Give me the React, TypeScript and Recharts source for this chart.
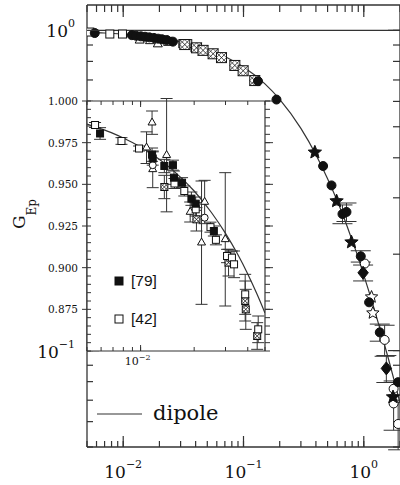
import React from 'react';
import { ComposedChart, Scatter, Line, XAxis, YAxis, ErrorBar, ReferenceLine } from 'recharts';

const INK = '#111';
const AX = '#333';
const SERIF = '"DejaVu Serif", serif';
const SANS = '"Liberation Sans", Arial, sans-serif';

// ---------- main axes ----------
const mainXTicks = [0.005, 0.006, 0.007, 0.008, 0.009, 0.01, 0.02, 0.03, 0.04, 0.05, 0.06, 0.07, 0.08, 0.09, 0.1, 0.2, 0.3, 0.4, 0.5, 0.6, 0.7, 0.8, 0.9, 1, 2];
const mainXMajor = [0.01, 0.1, 1];
const mainXExp = ['−2', '−1', '0'];
const mainYTicks = [0.05, 0.06, 0.07, 0.08, 0.09, 0.1, 0.2, 0.3, 0.4, 0.5, 0.6, 0.7, 0.8, 0.9, 1];
const mainYMajor = [0.1, 1];
const mainYExp = ['−1', '0'];

// ---------- main data (Q^2, G_Ep, error) ----------
const mainCurve = [
  { x: 0.005, y: 0.986 }, { x: 0.007, y: 0.981 }, { x: 0.01, y: 0.972 }, { x: 0.015, y: 0.959 },
  { x: 0.02, y: 0.946 }, { x: 0.03, y: 0.921 }, { x: 0.05, y: 0.873 }, { x: 0.07, y: 0.829 },
  { x: 0.1, y: 0.768 }, { x: 0.15, y: 0.682 }, { x: 0.2, y: 0.609 }, { x: 0.3, y: 0.494 },
  { x: 0.4, y: 0.409 }, { x: 0.5, y: 0.344 }, { x: 0.6, y: 0.294 }, { x: 0.7, y: 0.254 },
  { x: 0.8, y: 0.221 }, { x: 0.9, y: 0.195 }, { x: 1.0, y: 0.172 }, { x: 1.2, y: 0.138 },
  { x: 1.4, y: 0.113 }, { x: 1.6, y: 0.0945 }, { x: 1.8, y: 0.08 }, { x: 2.0, y: 0.0686 },
];
const mainFilledCircle = [
  { x: 0.0058, y: 0.981, e: 0 }, { x: 0.0118, y: 0.966, e: 0 }, { x: 0.0128, y: 0.962, e: 0 },
  { x: 0.014, y: 0.958, e: 0 }, { x: 0.0152, y: 0.955, e: 0 }, { x: 0.0165, y: 0.951, e: 0 },
  { x: 0.018, y: 0.947, e: 0 }, { x: 0.0195, y: 0.942, e: 0 }, { x: 0.021, y: 0.938, e: 0 },
  { x: 0.023, y: 0.933, e: 0 }, { x: 0.0259, y: 0.922, e: 0 }, { x: 0.132, y: 0.694, e: 0 },
  { x: 0.188, y: 0.608, e: 0 }, { x: 0.459, y: 0.377, e: 0 }, { x: 0.539, y: 0.328, e: 0 },
  { x: 0.665, y: 0.267, e: 0.018 }, { x: 0.718, y: 0.271, e: 0.018 }, { x: 0.944, y: 0.197, e: 0.008 },
  { x: 1.107, y: 0.1415, e: 0 }, { x: 1.358, y: 0.114, e: 0.007 }, { x: 1.93, y: 0.0797, e: 0 },
];
const mainOpenSquare = [
  { x: 0.00528, y: 0.988 }, { x: 0.00774, y: 0.974 }, { x: 0.00986, y: 0.974 },
  { x: 0.0235, y: 0.924 }, { x: 0.0313, y: 0.909 }, { x: 0.0344, y: 0.909 }, { x: 0.0395, y: 0.883 },
];
const mainTriangle = [
  { x: 0.0137, y: 0.93 }, { x: 0.0167, y: 0.926 }, { x: 0.0194, y: 0.905 },
];
const mainCrossSquare = [
  { x: 0.0325, y: 0.903 }, { x: 0.0407, y: 0.882 }, { x: 0.0461, y: 0.866 }, { x: 0.0559, y: 0.845 },
  { x: 0.0656, y: 0.822 }, { x: 0.0847, y: 0.777 }, { x: 0.0993, y: 0.748 }, { x: 0.124, y: 0.697 },
];
const mainFilledStar = [
  { x: 0.392, y: 0.416 }, { x: 0.594, y: 0.293 }, { x: 0.79, y: 0.218 }, { x: 1.75, y: 0.0716 },
];
const mainFilledDiamond = [
  { x: 0.987, y: 0.175, e: 0.01 }, { x: 1.54, y: 0.088, e: 0.0085 },
];
const mainOpenStar = [
  { x: 1.16, y: 0.147 }, { x: 1.19, y: 0.131 },
];
const mainOpenCircle = [
  { x: 1.02, y: 0.187, e: 0 }, { x: 1.49, y: 0.108, e: 0.012 }, { x: 1.77, y: 0.076, e: 0 },
  { x: 1.77, y: 0.0684, e: 0.012 }, { x: 1.93, y: 0.059, e: 0.01 },
];

// ---------- inset axes ----------
const insetXTicks = [0.005, 0.006, 0.007, 0.008, 0.009, 0.01, 0.02, 0.03, 0.04, 0.05];
const insetXMajor = [0.01];
const insetXExp = ['−2'];
const insetYTicks = [0.85, 0.855, 0.86, 0.865, 0.87, 0.875, 0.88, 0.885, 0.89, 0.895, 0.9, 0.905, 0.91, 0.915, 0.92, 0.925, 0.93, 0.935, 0.94, 0.945, 0.95, 0.955, 0.96, 0.965, 0.97, 0.975, 0.98, 0.985, 0.99, 0.995, 1];
const insetYMajor = [1, 0.975, 0.95, 0.925, 0.9, 0.875];
const insetYLabels = ['1.000', '0.975', '0.950', '0.925', '0.900', '0.875'];

// ---------- inset data ----------
const insetCurve = [
  { x: 0.005, y: 0.9861 }, { x: 0.006, y: 0.9833 }, { x: 0.007, y: 0.9806 }, { x: 0.008, y: 0.9778 },
  { x: 0.01, y: 0.9724 }, { x: 0.012, y: 0.967 }, { x: 0.015, y: 0.959 }, { x: 0.02, y: 0.946 },
  { x: 0.025, y: 0.9331 }, { x: 0.03, y: 0.9206 }, { x: 0.035, y: 0.9083 }, { x: 0.04, y: 0.8962 },
  { x: 0.045, y: 0.8843 }, { x: 0.05, y: 0.8728 },
];
const ref79 = [
  { x: 0.00592, y: 0.9805, e: 0.0035 }, { x: 0.0116, y: 0.9678, e: 0.004 }, { x: 0.0117, y: 0.9655, e: 0.004 },
  { x: 0.0136, y: 0.961, e: 0.004 }, { x: 0.0152, y: 0.9615, e: 0.003 }, { x: 0.0154, y: 0.954, e: 0.004 },
  { x: 0.0171, y: 0.951, e: 0.003 }, { x: 0.0193, y: 0.9414, e: 0.004 }, { x: 0.0204, y: 0.9384, e: 0.004 },
  { x: 0.0258, y: 0.922, e: 0.003 },
];
const ref42 = [
  { x: 0.00555, y: 0.9856, e: 0.0015 }, { x: 0.00781, y: 0.976, e: 0.002 }, { x: 0.0098, y: 0.9715, e: 0.0015 },
  { x: 0.0155, y: 0.9505, e: 0.003 }, { x: 0.0176, y: 0.946, e: 0.003 }, { x: 0.0204, y: 0.935, e: 0.004 },
  { x: 0.0247, y: 0.9243, e: 0.003 }, { x: 0.0265, y: 0.9167, e: 0.003 }, { x: 0.0306, y: 0.907, e: 0.004 },
  { x: 0.0326, y: 0.906, e: 0.004 }, { x: 0.0335, y: 0.902, e: 0.008 }, { x: 0.0387, y: 0.884, e: 0.012 },
  { x: 0.0458, y: 0.863, e: 0.008 },
];
const insetCross = [
  { x: 0.0136, y: 0.9484, e: 0.007 }, { x: 0.0206, y: 0.929, e: 0.007 }, { x: 0.0312, y: 0.903, e: 0.008 },
  { x: 0.0387, y: 0.88, e: 0.012 }, { x: 0.039, y: 0.875, e: 0.012 }, { x: 0.0452, y: 0.859, e: 0.008 },
];
const insetTriangle = [
  { x: 0.0108, y: 0.972, e: 0.0095 }, { x: 0.0116, y: 0.987, e: 0.007 }, { x: 0.0117, y: 0.959, e: 0.011 },
  { x: 0.014, y: 0.9675, e: 0.034 }, { x: 0.019, y: 0.9334, e: 0.006 }, { x: 0.022, y: 0.915, e: 0.037 },
  { x: 0.0229, y: 0.9394, e: 0.013 }, { x: 0.0299, y: 0.917, e: 0.04 },
];
const insetOpenCircle = [
  { x: 0.0117, y: 0.9615 }, { x: 0.0229, y: 0.93 },
];

// ---------- marker shapes ----------
const circle = (filled: boolean, r: number) => (p: any) => (
  <circle cx={p.cx} cy={p.cy} r={r} fill={filled ? INK : '#fff'} stroke={INK} strokeWidth={1} />
);
const square = (filled: boolean, s: number) => (p: any) => (
  <rect x={p.cx - s / 2} y={p.cy - s / 2} width={s} height={s} fill={filled ? INK : '#fff'} stroke={INK} strokeWidth={1} />
);
const crossSquare = (s: number) => (p: any) => {
  const h = s / 2;
  return (
    <g>
      <rect x={p.cx - h} y={p.cy - h} width={s} height={s} fill="#fff" stroke={INK} strokeWidth={1} />
      <path d={`M${p.cx - h},${p.cy - h}L${p.cx + h},${p.cy + h}M${p.cx + h},${p.cy - h}L${p.cx - h},${p.cy + h}`} stroke={INK} strokeWidth={0.8} />
      <path d={`M${p.cx},${p.cy - h}L${p.cx + h},${p.cy}L${p.cx},${p.cy + h}L${p.cx - h},${p.cy}Z`} fill="none" stroke={INK} strokeWidth={0.6} />
    </g>
  );
};
const triangle = (s: number) => (p: any) => {
  const hgt = s * 0.866;
  return (
    <polygon
      points={`${p.cx},${p.cy - (hgt * 2) / 3} ${p.cx - s / 2},${p.cy + hgt / 3} ${p.cx + s / 2},${p.cy + hgt / 3}`}
      fill="#fff" stroke={INK} strokeWidth={1}
    />
  );
};
const star = (filled: boolean, R: number) => (p: any) => {
  const pts: string[] = [];
  for (let k = 0; k < 10; k++) {
    const rr = k % 2 === 0 ? R : R * 0.45;
    const a = -Math.PI / 2 + (k * Math.PI) / 5;
    pts.push(`${p.cx + rr * Math.cos(a)},${p.cy + rr * Math.sin(a)}`);
  }
  return <polygon points={pts.join(' ')} fill={filled ? INK : '#fff'} stroke={INK} strokeWidth={1} />;
};
const diamond = (filled: boolean, h: number) => (p: any) => (
  <polygon points={`${p.cx},${p.cy - h} ${p.cx + h * 0.8},${p.cy} ${p.cx},${p.cy + h} ${p.cx - h * 0.8},${p.cy}`} fill={filled ? INK : '#fff'} stroke={INK} strokeWidth={1} />
);

// ---------- tick label renderers (tick lines are drawn natively by the axes) ----------
const NoLabel = () => <g />;
const MainBottomLabel = (p: any) => {
  const i = mainXMajor.indexOf(p.payload.value);
  if (i < 0) return <g />;
  return (
    <text x={p.x} y={p.y + 42} textAnchor="middle" fontFamily={SERIF} fontSize={17} fill={INK}>
      10<tspan dy={-10} fontSize={11}>{mainXExp[i]}</tspan>
    </text>
  );
};
const MainLeftLabel = (p: any) => {
  const i = mainYMajor.indexOf(p.payload.value);
  if (i < 0) return <g />;
  return (
    <text x={p.x - 24} y={p.y + 7} textAnchor="end" fontFamily={SERIF} fontSize={17} fill={INK}>
      10<tspan dy={-10} fontSize={11}>{mainYExp[i]}</tspan>
    </text>
  );
};
const InsetBottomLabel = (p: any) => {
  const i = insetXMajor.indexOf(p.payload.value);
  if (i < 0) return <g />;
  return (
    <text x={p.x - 3} y={p.y + 20} textAnchor="middle" fontFamily={SERIF} fontSize={11} fill={INK}>
      10<tspan dy={-5} fontSize={8}>{insetXExp[i]}</tspan>
    </text>
  );
};
const InsetLeftLabel = (p: any) => {
  const i = insetYMajor.indexOf(p.payload.value);
  if (i < 0) return <g />;
  return (
    <text x={p.x - 4} y={p.y + 4} textAnchor="end" fontFamily={SERIF} fontSize={10.5} fill={INK}>
      {insetYLabels[i]}
    </text>
  );
};

const MAIN_W = 401;
const MAIN_H = 485;
const MAIN_M = { top: 4, right: 0, bottom: 0, left: 0 };
const MX = [0.005, 2];
const MY = [0.05, 1.2];
const tl = (w: number) => ({ stroke: AX, strokeWidth: w });

// minor ticks, frame and all data
const MainChart = () => (
  <ComposedChart width={MAIN_W} height={MAIN_H} margin={MAIN_M}>
    <XAxis xAxisId="b" dataKey="x" type="number" scale="log" domain={MX} allowDataOverflow
      ticks={mainXTicks} interval={0} tick={NoLabel} tickLine={tl(1.2)} tickSize={-6} tickMargin={0}
      axisLine={tl(1.3)} height={38} />
    <XAxis xAxisId="t" orientation="top" dataKey="x" type="number" scale="log" domain={MX} allowDataOverflow
      ticks={mainXTicks} interval={0} tick={NoLabel} tickLine={tl(1.2)} tickSize={-7} tickMargin={0}
      axisLine={tl(1.3)} height={1} />
    <YAxis yAxisId="l" dataKey="y" type="number" scale="log" domain={MY} allowDataOverflow
      ticks={mainYTicks} interval={0} tick={NoLabel} tickLine={tl(1.2)} tickSize={-6} tickMargin={0}
      axisLine={tl(1.3)} width={87} />
    <YAxis yAxisId="r" orientation="right" dataKey="y" type="number" scale="log" domain={MY} allowDataOverflow
      ticks={mainYTicks} interval={0} tick={NoLabel} tickLine={tl(1.2)} tickSize={-7} tickMargin={0}
      axisLine={tl(1.3)} width={1} />
    <Line xAxisId="t" yAxisId="r" data={mainCurve} dataKey="y" dot={false} stroke="none" isAnimationActive={false} />
    <ReferenceLine xAxisId="b" yAxisId="l" y={1} stroke={AX} strokeWidth={1.2} />
    <Line xAxisId="b" yAxisId="l" data={mainCurve} dataKey="y" type="monotone" dot={false} stroke={AX} strokeWidth={1.2} isAnimationActive={false} />
    <Scatter xAxisId="b" yAxisId="l" data={mainOpenSquare} shape={square(false, 8)} isAnimationActive={false} />
    <Scatter xAxisId="b" yAxisId="l" data={mainTriangle} shape={triangle(9)} isAnimationActive={false} />
    <Scatter xAxisId="b" yAxisId="l" data={mainCrossSquare} shape={crossSquare(10)} isAnimationActive={false} />
    <Scatter xAxisId="b" yAxisId="l" data={mainOpenCircle} shape={circle(false, 4.5)} isAnimationActive={false}>
      <ErrorBar dataKey="e" direction="y" width={10} stroke={AX} strokeWidth={1} />
    </Scatter>
    <Scatter xAxisId="b" yAxisId="l" data={mainOpenStar} shape={star(false, 6.5)} isAnimationActive={false} />
    <Scatter xAxisId="b" yAxisId="l" data={mainFilledCircle} shape={circle(true, 4.5)} isAnimationActive={false}>
      <ErrorBar dataKey="e" direction="y" width={10} stroke={AX} strokeWidth={1} />
    </Scatter>
    <Scatter xAxisId="b" yAxisId="l" data={mainFilledStar} shape={star(true, 7)} isAnimationActive={false} />
    <Scatter xAxisId="b" yAxisId="l" data={mainFilledDiamond} shape={diamond(true, 6.5)} isAnimationActive={false}>
      <ErrorBar dataKey="e" direction="y" width={10} stroke={AX} strokeWidth={1} />
    </Scatter>
  </ComposedChart>
);

// major (longer) ticks and the decade labels
const MainMajorChart = () => (
  <ComposedChart width={MAIN_W} height={MAIN_H} margin={MAIN_M}>
    <XAxis xAxisId="b" dataKey="x" type="number" scale="log" domain={MX} allowDataOverflow
      ticks={mainXMajor} interval={0} tick={MainBottomLabel} tickLine={tl(1.2)} tickSize={-11} tickMargin={0}
      axisLine={false} height={38} />
    <XAxis xAxisId="t" orientation="top" dataKey="x" type="number" scale="log" domain={MX} allowDataOverflow
      ticks={mainXMajor} interval={0} tick={NoLabel} tickLine={tl(1.2)} tickSize={-12} tickMargin={0}
      axisLine={false} height={1} />
    <YAxis yAxisId="l" dataKey="y" type="number" scale="log" domain={MY} allowDataOverflow
      ticks={mainYMajor} interval={0} tick={MainLeftLabel} tickLine={tl(1.2)} tickSize={-12} tickMargin={0}
      axisLine={false} width={87} />
    <YAxis yAxisId="r" orientation="right" dataKey="y" type="number" scale="log" domain={MY} allowDataOverflow
      ticks={mainYMajor} interval={0} tick={NoLabel} tickLine={tl(1.2)} tickSize={-12} tickMargin={0}
      axisLine={false} width={1} />
    <Line xAxisId="b" yAxisId="l" data={mainCurve} dataKey="y" dot={false} stroke="none" isAnimationActive={false} />
    <Line xAxisId="t" yAxisId="r" data={mainCurve} dataKey="y" dot={false} stroke="none" isAnimationActive={false} />
  </ComposedChart>
);

const IN_W = 281;
const IN_H = 279;
const IN_M = { top: 4, right: 15, bottom: 0, left: 0 };
const IX = [0.005, 0.05];
const IY = [0.85, 1];

const InsetChart = () => (
  <ComposedChart width={IN_W} height={IN_H} margin={IN_M}>
    <XAxis xAxisId="b" dataKey="x" type="number" scale="log" domain={IX} allowDataOverflow
      ticks={insetXTicks} interval={0} tick={NoLabel} tickLine={tl(1)} tickSize={-4} tickMargin={0}
      axisLine={tl(1.2)} height={24} />
    <XAxis xAxisId="t" orientation="top" dataKey="x" type="number" scale="log" domain={IX} allowDataOverflow
      ticks={insetXTicks} interval={0} tick={NoLabel} tickLine={tl(1)} tickSize={-4} tickMargin={0}
      axisLine={tl(1.2)} height={1} />
    <YAxis yAxisId="l" dataKey="y" type="number" domain={IY} allowDataOverflow
      ticks={insetYTicks} interval={0} tick={NoLabel} tickLine={tl(1)} tickSize={-4} tickMargin={0}
      axisLine={tl(1.2)} width={87} />
    <YAxis yAxisId="r" orientation="right" dataKey="y" type="number" domain={IY} allowDataOverflow
      ticks={insetYTicks} interval={0} tick={NoLabel} tickLine={tl(1)} tickSize={5} tickMargin={0}
      axisLine={tl(1.2)} width={1} />
    <Line xAxisId="t" yAxisId="r" data={insetCurve} dataKey="y" dot={false} stroke="none" isAnimationActive={false} />
    <Line xAxisId="b" yAxisId="l" data={insetCurve} dataKey="y" type="monotone" dot={false} stroke={AX} strokeWidth={1.2} isAnimationActive={false} />
    <Scatter xAxisId="b" yAxisId="l" data={insetTriangle} shape={triangle(8)} isAnimationActive={false}>
      <ErrorBar dataKey="e" direction="y" width={6} stroke={AX} strokeWidth={1} />
    </Scatter>
    <Scatter xAxisId="b" yAxisId="l" data={insetCross} shape={crossSquare(7)} isAnimationActive={false}>
      <ErrorBar dataKey="e" direction="y" width={6} stroke={AX} strokeWidth={1} />
    </Scatter>
    <Scatter xAxisId="b" yAxisId="l" data={ref42} shape={square(false, 7)} isAnimationActive={false}>
      <ErrorBar dataKey="e" direction="y" width={6} stroke={AX} strokeWidth={1} />
    </Scatter>
    <Scatter xAxisId="b" yAxisId="l" data={insetOpenCircle} shape={circle(false, 3.5)} isAnimationActive={false} />
    <Scatter xAxisId="b" yAxisId="l" data={ref79} shape={square(true, 7)} isAnimationActive={false}>
      <ErrorBar dataKey="e" direction="y" width={6} stroke={AX} strokeWidth={1} />
    </Scatter>
  </ComposedChart>
);

const InsetMajorChart = () => (
  <ComposedChart width={IN_W} height={IN_H} margin={IN_M}>
    <XAxis xAxisId="b" dataKey="x" type="number" scale="log" domain={IX} allowDataOverflow
      ticks={insetXMajor} interval={0} tick={InsetBottomLabel} tickLine={tl(1)} tickSize={-6} tickMargin={0}
      axisLine={false} height={24} />
    <XAxis xAxisId="t" orientation="top" dataKey="x" type="number" scale="log" domain={IX} allowDataOverflow
      ticks={insetXMajor} interval={0} tick={NoLabel} tickLine={tl(1)} tickSize={-6} tickMargin={0}
      axisLine={false} height={1} />
    <YAxis yAxisId="l" dataKey="y" type="number" domain={IY} allowDataOverflow
      ticks={insetYMajor} interval={0} tick={InsetLeftLabel} tickLine={tl(1)} tickSize={5} tickMargin={0}
      axisLine={false} width={87} />
    <YAxis yAxisId="r" orientation="right" dataKey="y" type="number" domain={IY} allowDataOverflow
      ticks={insetYMajor} interval={0} tick={NoLabel} tickLine={tl(1)} tickSize={8} tickMargin={0}
      axisLine={false} width={1} />
    <Line xAxisId="b" yAxisId="l" data={insetCurve} dataKey="y" dot={false} stroke="none" isAnimationActive={false} />
    <Line xAxisId="t" yAxisId="r" data={insetCurve} dataKey="y" dot={false} stroke="none" isAnimationActive={false} />
  </ComposedChart>
);

const abs = (left: number, top: number): React.CSSProperties => ({ position: 'absolute', left, top });

export default function App() {
  return (
    <div style={{ position: 'absolute', left: 0, top: 0, width: 400, height: 485, overflow: 'hidden', background: '#fff' }}>
      <div style={abs(0, 0)}><MainChart /></div>
      <div style={abs(0, 0)}><MainMajorChart /></div>
      <div style={{ ...abs(87, 101), width: 178, height: 250, background: '#fff' }} />
      <div style={abs(0, 96)}><InsetChart /></div>
      <div style={abs(0, 96)}><InsetMajorChart /></div>
      <svg width={400} height={485} style={{ position: 'absolute', left: 0, top: 0, pointerEvents: 'none' }}>
        <g transform="translate(25,229) rotate(-90)">
          <text x={0} y={0} fontFamily={SERIF} fontSize={17} fill={INK}>
            G<tspan dy={11} fontSize={12}>Ep</tspan>
          </text>
        </g>
        <rect x={115} y={277} width={8} height={8} fill={INK} stroke={INK} />
        <text x={131} y={286} fontFamily={SANS} fontSize={15.5} fill={INK}>[79]</text>
        <rect x={115} y={315} width={8} height={8} fill="#fff" stroke={INK} />
        <text x={131} y={324} fontFamily={SANS} fontSize={15.5} fill={INK}>[42]</text>
        <line x1={97} x2={142} y1={414} y2={414} stroke={AX} strokeWidth={1.2} />
        <text x={153} y={420} fontFamily={SERIF} fontSize={21} fill={INK}>dipole</text>
      </svg>
    </div>
  );
}
